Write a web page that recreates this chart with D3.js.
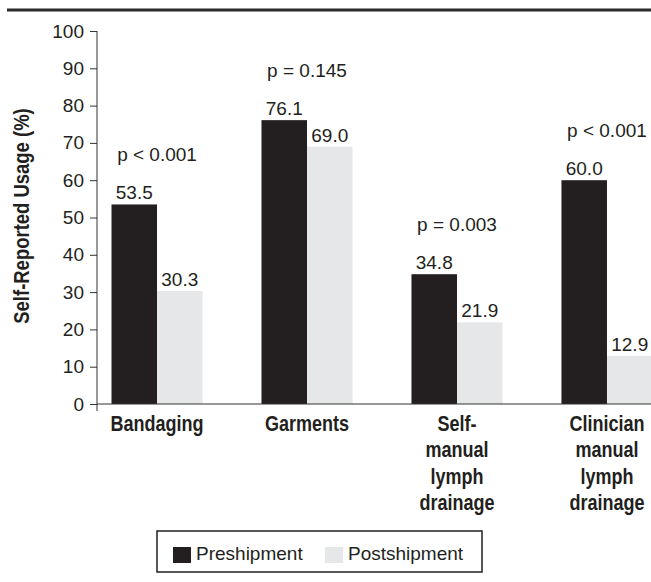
<!DOCTYPE html>
<html>
<head>
<meta charset="utf-8">
<script src="https://cdn.jsdelivr.net/npm/d3@7"></script>
<style>
  body { margin: 0; background: #fff; }
  svg { display: block; }
  .reg { font-family: "Liberation Sans", Arial, sans-serif; font-size: 19px; fill: #231f20; }
  .bold { font-family: "Liberation Sans", Arial, sans-serif; font-weight: bold; fill: #231f20; }
</style>
</head>
<body>
<svg id="chart" width="651" height="582"></svg>
<script>
// data
const categories = ['Bandaging', 'Garments', 'Self-manual lymph drainage', 'Clinician manual lymph drainage'];
const categoryLines = [['Bandaging'], ['Garments'], ['Self-', 'manual', 'lymph', 'drainage'], ['Clinician', 'manual', 'lymph', 'drainage']];
const series = ['Preshipment', 'Postshipment'];
const preshipment = [53.5, 76.1, 34.8, 60.0];
const postshipment = [30.3, 69.0, 21.9, 12.9];
const pLabels = ['p < 0.001', 'p = 0.145', 'p = 0.003', 'p < 0.001'];
const yTicks = [0, 10, 20, 30, 40, 50, 60, 70, 80, 90, 100];

const colors = {Preshipment: '#231f20', Postshipment: '#e6e7e8'};
const W = 651, axisX = 97, y0 = 404, y100 = 31;
const narrow = 0.82; // no condensed font installed, squeeze the bold labels

const svg = d3.select('#chart');

const rows = categories.map((c, i) => ({
    cat: c,
    lines: categoryLines[i],
    p: pLabels[i],
    values: [{s: series[0], v: preshipment[i]}, {s: series[1], v: postshipment[i]}]
}));

const x = d3.scaleBand().domain(categories).range([111.5, 652.5]).paddingInner(0.393).paddingOuter(0);
const xs = d3.scaleBand().domain(series).range([0, x.bandwidth()]);
const y = d3.scaleLinear().domain([0, 100]).range([y0, y100]);

// top rule
svg.append('line')
    .attr('x1', 7).attr('x2', W)
    .attr('y1', 10).attr('y2', 10)
    .attr('stroke', '#2b2b2b').attr('stroke-width', 3);

// bars
const groups = svg.append('g').selectAll('g')
    .data(rows)
    .join('g')
    .attr('transform', d => `translate(${x(d.cat)},0)`);

groups.selectAll('rect')
    .data(d => d.values)
    .join('rect')
    .attr('x', d => xs(d.s))
    .attr('y', d => y(d.v))
    .attr('width', xs.bandwidth())
    .attr('height', d => y(0) - y(d.v))
    .attr('fill', d => colors[d.s]);

groups.selectAll('text.val')
    .data(d => d.values)
    .join('text')
    .attr('class', 'val reg')
    .attr('x', d => xs(d.s) + xs.bandwidth() / 2)
    .attr('y', d => y(d.v) - 5)
    .attr('text-anchor', 'middle')
    .text(d => d.v.toFixed(1));

groups.append('text')
    .attr('class', 'reg')
    .attr('x', x.bandwidth() / 2)
    .attr('y', d => y(d3.max(d.values, v => v.v)) - 43)
    .attr('text-anchor', 'middle')
    .text(d => d.p);

// y axis
const yAxis = d3.axisLeft(y).tickValues(yTicks).tickSize(7).tickPadding(6);
const gy = svg.append('g')
    .attr('transform', `translate(${axisX},0)`)
    .call(yAxis);
gy.select('.domain').remove();
gy.selectAll('.tick line').attr('stroke', '#333');
gy.selectAll('.tick text')
    .attr('class', 'reg')
    .attr('fill', '#231f20')
    .style('font-size', '19px');
gy.append('line')
    .attr('x1', 0).attr('x2', 0)
    .attr('y1', y(100)).attr('y2', y(0) + 7)
    .attr('stroke', '#333');

// baseline
svg.append('line')
    .attr('x1', axisX).attr('x2', W)
    .attr('y1', y(0)).attr('y2', y(0))
    .attr('stroke', '#333');

// category labels
svg.append('g').selectAll('text')
    .data(rows)
    .join('text')
    .attr('class', 'bold')
    .style('font-size', '22px')
    .attr('text-anchor', 'middle')
    .attr('transform', d => `translate(${x(d.cat) + x.bandwidth() / 2},431) scale(${narrow},1)`)
    .selectAll('tspan')
    .data(d => d.lines)
    .join('tspan')
    .attr('x', 0)
    .attr('y', (d, i) => i * 26.5)
    .text(d => d);

// y axis title
svg.append('text')
    .attr('class', 'bold')
    .style('font-size', '22px')
    .attr('text-anchor', 'middle')
    .attr('transform', `translate(29,216) rotate(-90) scale(0.84,1)`)
    .text('Self-Reported Usage (%)');

// legend
const legend = svg.append('g');
legend.append('rect')
    .attr('x', 157).attr('y', 531)
    .attr('width', 325).attr('height', 41)
    .attr('fill', 'none').attr('stroke', '#231f20').attr('stroke-width', 1.5);
const legendX = [173, 325];
const items = legend.selectAll('g')
    .data(series)
    .join('g')
    .attr('transform', (d, i) => `translate(${legendX[i]},547)`);
items.append('rect')
    .attr('width', 18).attr('height', 16)
    .attr('fill', d => colors[d]);
items.append('text')
    .attr('class', 'reg')
    .attr('x', 23).attr('y', 13)
    .text(d => d);
</script>
</body>
</html>
